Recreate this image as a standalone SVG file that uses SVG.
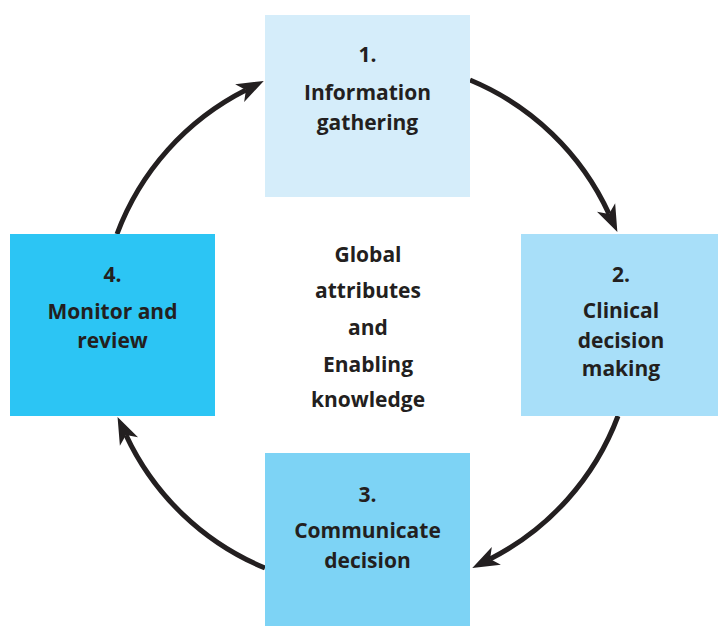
<svg xmlns="http://www.w3.org/2000/svg" width="718" height="626" viewBox="0 0 718 626">
<style>
  text { font-family: "Open Sans", "Liberation Sans", Arial, sans-serif; font-weight: 700; font-size: 21px; fill: #231f20; text-anchor: middle; }
  .conn { fill: none; stroke: #231f20; stroke-width: 5; marker-end: url(#head); }
</style>
<defs>
  <marker id="head" markerUnits="userSpaceOnUse" viewBox="-8 -11 30 22" markerWidth="30" markerHeight="22" refX="0" refY="0" orient="auto">
    <path d="M20,0 L-7,-10 L0,0 L-7,10 Z" fill="#231f20"/>
  </marker>
</defs>
<rect width="718" height="626" fill="#ffffff"/>
<g id="connectors">
  <path class="conn" d="M470,80 A265,265 0 0 1 609,213.9"/>
  <path class="conn" d="M618,416 A265,265 0 0 1 490.1,559"/>
  <path class="conn" d="M265,568 A265,265 0 0 1 126,435.1"/>
  <path class="conn" d="M117,234 A265,265 0 0 1 245.9,90"/>
</g>
<g id="node1">
  <rect x="265" y="15" width="205" height="182" fill="#d5edfa"/>
  <text x="367.5" y="62">1.</text>
  <text x="367.5" y="100">Information</text>
  <text x="367.5" y="130">gathering</text>
</g>
<g id="node2">
  <rect x="521" y="234" width="197" height="182" fill="#a8dff9"/>
  <text x="621" y="282">2.</text>
  <text x="621" y="318">Clinical</text>
  <text x="621" y="348">decision</text>
  <text x="621" y="376">making</text>
</g>
<g id="node3">
  <rect x="265" y="453" width="205" height="173" fill="#7dd3f5"/>
  <text x="367.5" y="502">3.</text>
  <text x="367.5" y="538">Communicate</text>
  <text x="367.5" y="568">decision</text>
</g>
<g id="node4">
  <rect x="10" y="234" width="205" height="182" fill="#2cc5f4"/>
  <text x="112.5" y="282">4.</text>
  <text x="112.5" y="319">Monitor and</text>
  <text x="112.5" y="348">review</text>
</g>
<g id="center">
  <text x="368" y="262">Global</text>
  <text x="368" y="298">attributes</text>
  <text x="368" y="335">and</text>
  <text x="368" y="372">Enabling</text>
  <text x="368" y="407">knowledge</text>
</g>
</svg>
